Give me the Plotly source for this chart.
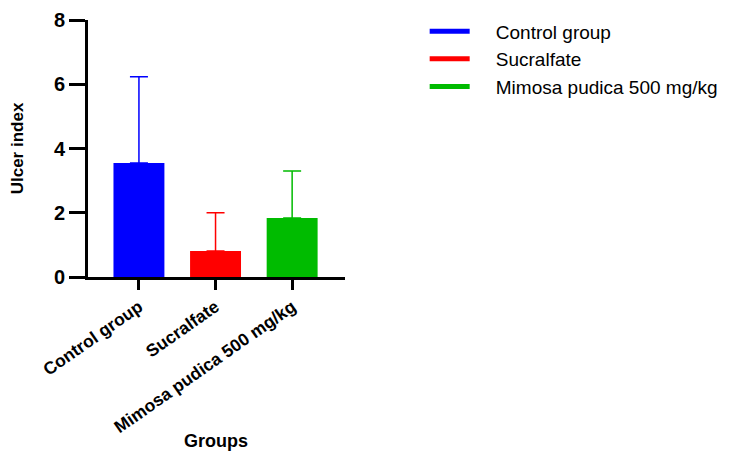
import plotly.graph_objects as go

groups = ["Control group", "Sucralfate", "Mimosa pudica 500 mg/kg"]
means = [3.55, 0.81, 1.84]
errors = [2.68, 1.19, 1.46]
colors = ["#0000ff", "#ff0000", "#00bb00"]
y_ticks = [0, 2, 4, 6, 8]

fig = go.Figure()
for g, m, e, c in zip(groups, means, errors, colors):
    fig.add_trace(go.Bar(
        x=[g], y=[m], name=g, marker=dict(color=c, line=dict(width=0)),
        width=0.665, showlegend=False,
        error_y=dict(type="data", array=[e], arrayminus=[0], symmetric=False,
                     color=c, thickness=1.5, width=9),
    ))
for g, c in zip(groups, colors):
    fig.add_trace(go.Scatter(
        x=[None], y=[None], mode="lines", name="\u00a0\u00a0\u00a0\u00a0" + g,
        line=dict(color=c, width=5), legendgroup=g,
    ))

bold = "Liberation Sans"
fig.update_layout(
    width=739, height=454,
    margin=dict(l=80, r=402, t=12, b=185, autoexpand=False),
    plot_bgcolor="white", paper_bgcolor="white",
    font=dict(family="Liberation Sans, Arial", color="black"),
    bargap=0.335,
    legend=dict(x=1.31, y=1.03, xanchor="left", yanchor="top",
                font=dict(size=19, family="Liberation Sans, Arial"),
                traceorder="grouped", tracegroupgap=0, itemwidth=40,
                bgcolor="rgba(0,0,0,0)"),
    xaxis=dict(
        type="category", categoryorder="array", categoryarray=groups,
        range=[-0.665, 2.69], automargin=False,
        showline=True, linecolor="black", linewidth=3,
        ticks="outside", ticklen=10, tickwidth=3, tickcolor="black",
        tickangle=-35,
        tickfont=dict(size=17.5, family=bold, weight="bold"),
        showgrid=False, zeroline=False,
    ),
    yaxis=dict(
        range=[0, 8], tickvals=y_ticks, automargin=False,
        showline=True, linecolor="black", linewidth=3,
        ticks="outside", ticklen=16, tickwidth=3, tickcolor="black",
        tickfont=dict(size=20, family=bold, weight="bold"),
        title=dict(text="<b>Ulcer index</b>",
                   font=dict(size=17, family="Liberation Sans Narrow, Arial Narrow, Liberation Sans"),
                   standoff=26),
        showgrid=False, zeroline=False,
    ),
    annotations=[dict(text="<b>Groups</b>", xref="paper", yref="paper",
                      x=0.498, y=-0.64, xanchor="center", yanchor="middle",
                      showarrow=False, font=dict(size=18, family=bold))],
)

fig.write_html("out.html")
